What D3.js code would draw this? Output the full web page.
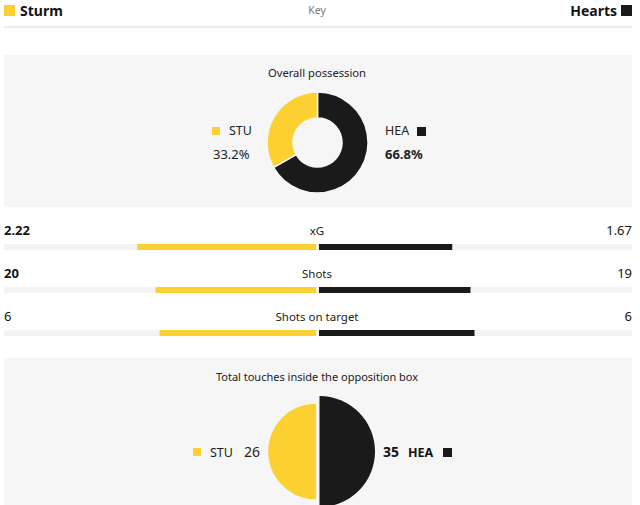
<!DOCTYPE html>
<html>
<head>
<meta charset="utf-8">
<script src="https://cdn.jsdelivr.net/npm/d3@7"></script>
<style>
  body { margin: 0; background: #fff; }
  svg { display: block; font-family: "Noto Sans", "Open Sans", sans-serif; }
</style>
</head>
<body>
<div id="chart"></div>
<script>
// teams
var teams = ["Sturm", "Hearts"];
var shortNames = ["STU", "HEA"];
var teamColors = ["#fdd032", "#1a1a1a"];

// possession (%)
var possession = [33.2, 66.8];

// bar stats
var statLabels = ["xG", "Shots", "Shots on target"];
var homeValues = [2.22, 20, 6];
var awayValues = [1.67, 19, 6];
var homeText = ["2.22", "20", "6"];
var awayText = ["1.67", "19", "6"];
var homeBold = [true, true, false];
var awayBold = [false, false, false];

// touches in opposition box
var touches = [26, 35];

var width = 640, height = 505;
var left = 4, right = 632, mid = 317;
var panelColor = "#f6f6f6";

var svg = d3.select("#chart").append("svg")
  .attr("width", width).attr("height", height);

// header key
svg.append("rect").attr("x", left).attr("y", 5).attr("width", 11).attr("height", 11)
  .attr("fill", teamColors[0]);
svg.append("text").attr("x", 20).attr("y", 16).text(teams[0])
  .attr("font-size", 14).attr("font-weight", "bold").attr("fill", "#141414");
svg.append("text").attr("x", mid).attr("y", 14).text("Key")
  .attr("font-size", 10.5).attr("fill", "#7a7a7a").attr("text-anchor", "middle");
svg.append("rect").attr("x", right - 11).attr("y", 5).attr("width", 11).attr("height", 11)
  .attr("fill", teamColors[1]);
svg.append("text").attr("x", right - 15).attr("y", 16).text(teams[1])
  .attr("font-size", 14).attr("font-weight", "bold").attr("fill", "#141414")
  .attr("text-anchor", "end");
svg.append("rect").attr("x", left).attr("y", 26).attr("width", right - left).attr("height", 2)
  .attr("fill", "#ececec");

// possession panel
svg.append("rect").attr("x", left).attr("y", 55).attr("width", right - left).attr("height", 152)
  .attr("fill", panelColor);
svg.append("text").attr("x", mid).attr("y", 77).text("Overall possession")
  .attr("font-size", 11.2).attr("fill", "#222").attr("text-anchor", "middle");

var pie = d3.pie().sort(null);
var arc = d3.arc().innerRadius(24.5).outerRadius(50.5);
var donut = svg.append("g").attr("transform", "translate(" + 317.5 + "," + 142.5 + ")");
// Hearts first so it starts at 12 o'clock clockwise, Sturm closes the circle
var possData = pie([possession[1], possession[0]]);
donut.selectAll("path").data(possData).enter().append("path")
  .attr("d", arc)
  .attr("fill", function(d, i){ return i === 0 ? teamColors[1] : teamColors[0]; })
  .attr("stroke", panelColor).attr("stroke-width", 1.5);

svg.append("rect").attr("x", 212).attr("y", 127).attr("width", 8).attr("height", 8)
  .attr("fill", teamColors[0]);
svg.append("text").attr("x", 229).attr("y", 135).text(shortNames[0])
  .attr("font-size", 12.5).attr("fill", "#222");
svg.append("text").attr("x", 213).attr("y", 159).text(possession[0].toFixed(1) + "%")
  .attr("font-size", 13).attr("fill", "#222");
svg.append("text").attr("x", 385).attr("y", 135).text(shortNames[1])
  .attr("font-size", 12.5).attr("fill", "#222");
svg.append("rect").attr("x", 417).attr("y", 127).attr("width", 9).attr("height", 9)
  .attr("fill", teamColors[1]);
svg.append("text").attr("x", 385).attr("y", 159).text(possession[1].toFixed(1) + "%")
  .attr("font-size", 13).attr("font-weight", "bold").attr("fill", "#222");

// stat bars
var half = right - mid;
statLabels.forEach(function(label, i){
  var y0 = 235 + i * 43;
  var total = homeValues[i] + awayValues[i];
  var x = d3.scaleLinear().domain([0, total]).range([0, half]);
  svg.append("text").attr("x", left).attr("y", y0).text(homeText[i])
    .attr("font-size", 13).attr("font-weight", homeBold[i] ? "bold" : "normal").attr("fill", "#141414");
  svg.append("text").attr("x", mid).attr("y", y0).text(label)
    .attr("font-size", 11.5).attr("fill", "#222").attr("text-anchor", "middle");
  svg.append("text").attr("x", right).attr("y", y0).text(awayText[i])
    .attr("font-size", 13).attr("font-weight", awayBold[i] ? "bold" : "normal").attr("fill", "#141414")
    .attr("text-anchor", "end");
  svg.append("rect").attr("x", left).attr("y", y0 + 9).attr("width", right - left).attr("height", 6)
    .attr("fill", "#f3f3f3");
  svg.append("rect").attr("x", mid - x(homeValues[i])).attr("y", y0 + 9)
    .attr("width", x(homeValues[i]) - 1).attr("height", 6).attr("fill", teamColors[0]);
  svg.append("rect").attr("x", mid + 2).attr("y", y0 + 9)
    .attr("width", x(awayValues[i]) - 2).attr("height", 6).attr("fill", teamColors[1]);
});

// touches panel
svg.append("rect").attr("x", left).attr("y", 358).attr("width", right - left).attr("height", 147)
  .attr("fill", panelColor);
svg.append("text").attr("x", mid).attr("y", 381).text("Total touches inside the opposition box")
  .attr("font-size", 11).attr("fill", "#222").attr("text-anchor", "middle");

var r = d3.scaleSqrt().domain([0, d3.max(touches)]).range([0, 55.5]);
var cy = 451.5;
svg.append("path")
  .attr("transform", "translate(" + 316 + "," + cy + ")")
  .attr("d", d3.arc()({innerRadius: 0, outerRadius: r(touches[0]), startAngle: Math.PI, endAngle: 2 * Math.PI}))
  .attr("fill", teamColors[0]);
svg.append("path")
  .attr("transform", "translate(" + 319.5 + "," + cy + ")")
  .attr("d", d3.arc()({innerRadius: 0, outerRadius: r(touches[1]), startAngle: 0, endAngle: Math.PI}))
  .attr("fill", teamColors[1]);

svg.append("rect").attr("x", 193).attr("y", 448).attr("width", 8).attr("height", 8)
  .attr("fill", teamColors[0]);
svg.append("text").attr("x", 210).attr("y", 457).text(shortNames[0])
  .attr("font-size", 12.5).attr("fill", "#222");
svg.append("text").attr("x", 260).attr("y", 457).text(touches[0])
  .attr("font-size", 14).attr("fill", "#222").attr("text-anchor", "end");
svg.append("text").attr("x", 383).attr("y", 457).text(touches[1])
  .attr("font-size", 14).attr("font-weight", "bold").attr("fill", "#141414");
svg.append("text").attr("x", 408).attr("y", 457).text(shortNames[1])
  .attr("font-size", 12.5).attr("font-weight", "bold").attr("fill", "#141414");
svg.append("rect").attr("x", 443).attr("y", 448).attr("width", 9).attr("height", 9)
  .attr("fill", teamColors[1]);
</script>
</body>
</html>
